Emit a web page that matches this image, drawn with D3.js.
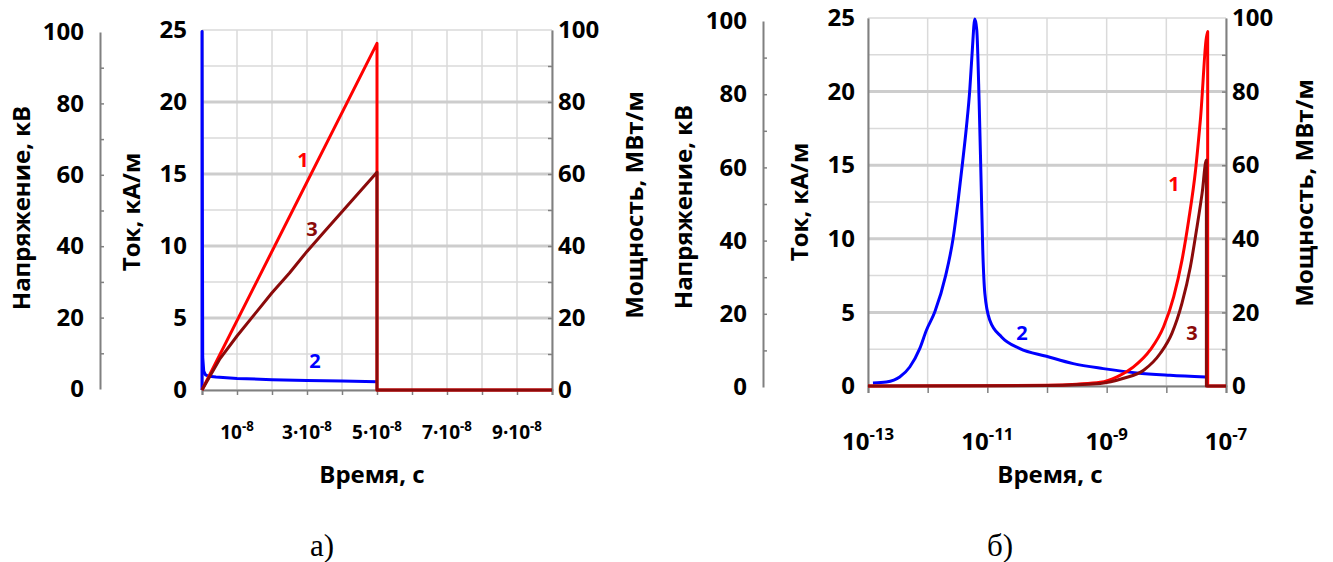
<!DOCTYPE html>
<html>
<head>
<meta charset="utf-8">
<script src="https://cdn.jsdelivr.net/npm/d3@7"></script>
<style>
  body { margin: 0; background: #fff; }
  text { font-family: "Open Sans", sans-serif; font-weight: bold; fill: #000; }
  .caption { font-family: "Liberation Serif", serif; font-weight: normal; }
</style>
</head>
<body>
<div id="chart"></div>
<script>
// ---- data: panel а) (linear time) ----
var aVoltTime = [0, 5e-8, 5e-8, 1e-7];
var aVolt = [0, 96.3, 0, 0];
var aCurTime = [0, 0, 0.02e-8, 0.05e-8, 0.1e-8, 0.2e-8, 0.4e-8, 1e-8, 2e-8, 3e-8, 4e-8, 5e-8];
var aCur = [0, 24.9, 2.3, 1.3, 1.05, 0.95, 0.9, 0.8, 0.72, 0.66, 0.62, 0.58];
var aPowTime = [0, 0.5e-8, 1e-8, 1.5e-8, 2e-8, 2.5e-8, 3e-8, 3.5e-8, 4e-8, 4.5e-8, 5e-8, 5e-8, 1e-7];
var aPow = [0, 8.5, 15, 21, 27, 32.5, 38.5, 44, 49.5, 55, 60.5, 0, 0];
var aTickVals = [1e-8, 3e-8, 5e-8, 7e-8, 9e-8];
var aTickMant = ["", "3·", "5·", "7·", "9·"];
var aTickExp = ["-8", "-8", "-8", "-8", "-8"];
var aGridX = [0, 1e-8, 2e-8, 3e-8, 4e-8, 5e-8, 6e-8, 7e-8, 8e-8, 9e-8, 1e-7];

// ---- data: panel б) (log time) ----
var bVoltTime = [1e-13, 1e-11, 1e-10, 3.16e-10, 7.8e-10, 1.49e-9, 2.82e-9, 5.37e-9, 9.0e-9, 1.33e-8, 1.83e-8, 2.37e-8, 3.09e-8, 3.72e-8, 4.93e-8, 4.93e-8, 1e-7];
var bVolt = [0, 0.05, 0.2, 0.5, 1.0, 2.5, 5.2, 9.8, 16.1, 24.3, 34.2, 45.1, 58.7, 72.3, 96.3, 0, 0];
var bCurTime = [1.21e-13, 2.03e-13, 3.4e-13, 5.01e-13, 7.36e-13, 9.53e-13, 1.32e-12, 2.01e-12, 2.67e-12, 3.24e-12, 3.83e-12, 4.47e-12, 5.08e-12, 5.56e-12, 6.17e-12, 6.65e-12, 7.28e-12, 7.87e-12, 8.39e-12, 9.08e-12, 1.1e-11, 1.73e-11, 3.51e-11, 9.82e-11, 2.75e-10, 8.77e-10, 3.18e-9, 1.15e-8, 4.57e-8];
var bCur = [0.2, 0.27, 0.61, 1.29, 2.54, 3.79, 5.04, 7.53, 10.03, 12.59, 15.13, 17.63, 20.12, 22.62, 24.93, 24.2, 19.4, 13.8, 9.2, 6.3, 4.47, 3.33, 2.54, 2.02, 1.52, 1.18, 0.89, 0.73, 0.61];
var bPowTime = [1e-13, 1e-11, 1e-10, 7.8e-10, 1.92e-9, 4.17e-9, 7.94e-9, 1.24e-8, 1.83e-8, 2.53e-8, 3.27e-8, 3.98e-8, 4.69e-8, 4.69e-8, 1e-7];
var bPow = [0, 0.05, 0.15, 0.7, 2.1, 4.3, 8.9, 14.3, 22.5, 32.4, 43.3, 52.4, 61.4, 0, 0];
var bTickVals = [1e-13, 1e-11, 1e-9, 1e-7];
var bTickMant = ["", "", "", ""];
var bTickExp = ["-13", "-11", "-9", "-7"];
var bGridX = [1e-13, 1e-12, 1e-11, 1e-10, 1e-9, 1e-8, 1e-7];

// ---- shared axis ticks ----
var currentTicks = [0, 5, 10, 15, 20, 25];
var currentGrid = [0, 2.5, 5, 7.5, 10, 12.5, 15, 17.5, 20, 22.5, 25];
var hundredTicks = [0, 20, 40, 60, 80, 100];
var hundredMinor = [10, 20, 30, 40, 50, 60, 70, 80, 90];

var svg = d3.select("#chart").append("svg")
  .attr("width", 1333)
  .attr("height", 562);

function styleAxis(ax, size) {
  ax.attr("font-family", null).attr("font-size", size);
  ax.select(".domain").attr("stroke", "#808080").attr("stroke-width", 2);
  ax.selectAll(".tick line").attr("stroke", "#808080").attr("stroke-width", 1.5);
}

function drawPanel(p) {
  var g = svg.append("g");
  var x = (p.log ? d3.scaleLog() : d3.scaleLinear())
    .domain(p.xDomain).range([p.left, p.right]);
  var yCur = d3.scaleLinear().domain([0, 25]).range([p.bottom, p.top]);
  var yPow = d3.scaleLinear().domain([0, 100]).range([p.bottom, p.top]);
  var yVolt = d3.scaleLinear().domain([0, 100]).range(p.voltRange);

  // grid
  g.append("g").selectAll("line").data(p.gridX).join("line")
    .attr("x1", d => x(d)).attr("x2", d => x(d))
    .attr("y1", p.top).attr("y2", p.bottom)
    .attr("stroke", "#dadada").attr("stroke-width", 1.5);
  g.append("g").selectAll("line").data(currentGrid).join("line")
    .attr("x1", p.left).attr("x2", p.right)
    .attr("y1", d => yCur(d)).attr("y2", d => yCur(d))
    .attr("stroke", d => (d % 5 === 0 && d > 0 && d < 25) ? "#cdcdcd" : "#dadada")
    .attr("stroke-width", d => (d % 5 === 0 && d > 0 && d < 25) ? 3 : 1.5);

  // bottom axis
  var bx = g.append("g")
    .attr("transform", `translate(0, ${p.bottom})`)
    .call(d3.axisBottom(x).tickValues(p.gridX).tickSize(p.xTickSize).tickFormat(""));
  styleAxis(bx, 10);

  g.selectAll(".xlab").data(p.tickVals).join("text")
    .attr("x", d => x(d))
    .attr("y", p.xLabelY)
    .attr("text-anchor", "middle")
    .attr("font-size", p.xLabelSize)
    .each(function(d, i) {
      var t = d3.select(this);
      t.append("tspan").text(p.tickMant[i] + "10");
      t.append("tspan").attr("dy", -p.xLabelSize * 0.42)
        .attr("font-size", p.xLabelSize * 0.7).text(p.tickExp[i]);
    });

  // voltage axis (separate)
  var va = g.append("g")
    .attr("transform", `translate(${p.voltX}, 0)`)
    .call(d3.axisLeft(yVolt).tickValues(hundredTicks).tickSize(0).tickPadding(p.voltPad));
  styleAxis(va, 24);
  g.append("g")
    .attr("transform", `translate(${p.voltX}, 0)`)
    .call(d3.axisRight(yVolt).tickValues(hundredMinor).tickSize(4).tickFormat(""))
    .call(a => styleAxis(a, 10))
    .select(".domain").remove();

  // current axis
  var ca = g.append("g")
    .attr("transform", `translate(${p.left}, 0)`)
    .call(d3.axisLeft(yCur).tickValues(currentTicks).tickSize(0).tickPadding(p.curPad));
  styleAxis(ca, 24);

  // power axis
  var pa = g.append("g")
    .attr("transform", `translate(${p.right}, 0)`)
    .call(d3.axisRight(yPow).tickValues(hundredTicks).tickSize(0).tickPadding(6));
  styleAxis(pa, 24);
  g.append("g")
    .attr("transform", `translate(${p.right}, 0)`)
    .call(d3.axisLeft(yPow).tickValues(hundredMinor).tickSize(4).tickFormat(""))
    .call(a => styleAxis(a, 10))
    .select(".domain").remove();

  // axis titles
  var titles = [
    { t: "Напряжение, кВ", x: p.voltTitle[0], y: p.voltTitle[1] },
    { t: "Ток, кА/м", x: p.curTitle[0], y: p.curTitle[1] },
    { t: "Мощность, МВт/м", x: p.powTitle[0], y: p.powTitle[1] }
  ];
  g.selectAll(".ytitle").data(titles).join("text")
    .attr("transform", d => `translate(${d.x}, ${d.y}) rotate(-90)`)
    .attr("text-anchor", "middle")
    .attr("dy", "0.35em")
    .attr("font-size", 24)
    .text(d => d.t);

  g.append("text")
    .attr("x", p.xTitle[0]).attr("y", p.xTitle[1])
    .attr("text-anchor", "middle")
    .attr("font-size", 24)
    .text("Время, с");

  // curves
  var lineCur = d3.line().curve(p.curve).x(d => x(d[0])).y(d => yCur(d[1]));
  var line100 = d3.line().curve(p.curve).x(d => x(d[0])).y(d => yPow(d[1]));

  g.append("path").datum(d3.zip(p.curTime, p.cur))
    .attr("d", lineCur).attr("fill", "none")
    .attr("stroke", "#0000ff").attr("stroke-width", 3).attr("stroke-linejoin", "round");
  g.append("path").datum(d3.zip(p.voltTime, p.volt))
    .attr("d", line100).attr("fill", "none")
    .attr("stroke", "#ff0000").attr("stroke-width", 3).attr("stroke-linejoin", "round");
  g.append("path").datum(d3.zip(p.powTime, p.pow))
    .attr("d", line100).attr("fill", "none")
    .attr("stroke", "#8b0a0a").attr("stroke-width", 3).attr("stroke-linejoin", "round");

  // curve numbers
  var nums = [
    { t: "1", c: "#ff0000", pos: p.num1 },
    { t: "2", c: "#0000ff", pos: p.num2 },
    { t: "3", c: "#8b0a0a", pos: p.num3 }
  ];
  g.selectAll(".num").data(nums).join("text")
    .attr("x", d => d.pos[0]).attr("y", d => d.pos[1])
    .attr("text-anchor", "middle").attr("dy", "0.35em")
    .attr("font-size", 20)
    .style("fill", d => d.c)
    .text(d => d.t);

  g.append("text").attr("class", "caption")
    .attr("x", p.caption[0]).attr("y", p.caption[1])
    .attr("text-anchor", "middle")
    .attr("font-size", 31)
    .text(p.captionText);
}

drawPanel({
  log: false, xDomain: [0, 1e-7], curve: d3.curveLinear,
  left: 202, right: 552, top: 30, bottom: 390,
  gridX: aGridX, xTickSize: 5,
  tickVals: aTickVals, tickMant: aTickMant, tickExp: aTickExp,
  xLabelY: 439, xLabelSize: 19,
  voltX: 100, voltRange: [389, 32], voltPad: 16, curPad: 15,
  voltTitle: [22, 208], curTitle: [132, 212], powTitle: [635, 205],
  xTitle: [372, 483],
  curTime: aCurTime, cur: aCur, voltTime: aVoltTime, volt: aVolt,
  powTime: aPowTime, pow: aPow,
  num1: [303, 160], num2: [315, 361], num3: [312, 229],
  caption: [322, 556], captionText: "а)"
});

drawPanel({
  log: true, xDomain: [1e-13, 1e-7], curve: d3.curveMonotoneX,
  left: 868, right: 1226, top: 18, bottom: 386,
  gridX: bGridX, xTickSize: 7,
  tickVals: bTickVals, tickMant: bTickMant, tickExp: bTickExp,
  xLabelY: 450, xLabelSize: 24,
  voltX: 763, voltRange: [387, 21], voltPad: 16, curPad: 13,
  voltTitle: [684, 207], curTitle: [800, 202], powTitle: [1305, 193],
  xTitle: [1050, 483],
  curTime: bCurTime, cur: bCur, voltTime: bVoltTime, volt: bVolt,
  powTime: bPowTime, pow: bPow,
  num1: [1174, 184], num2: [1022, 333], num3: [1192, 333],
  caption: [1000, 556], captionText: "б)"
});
</script>
</body>
</html>
